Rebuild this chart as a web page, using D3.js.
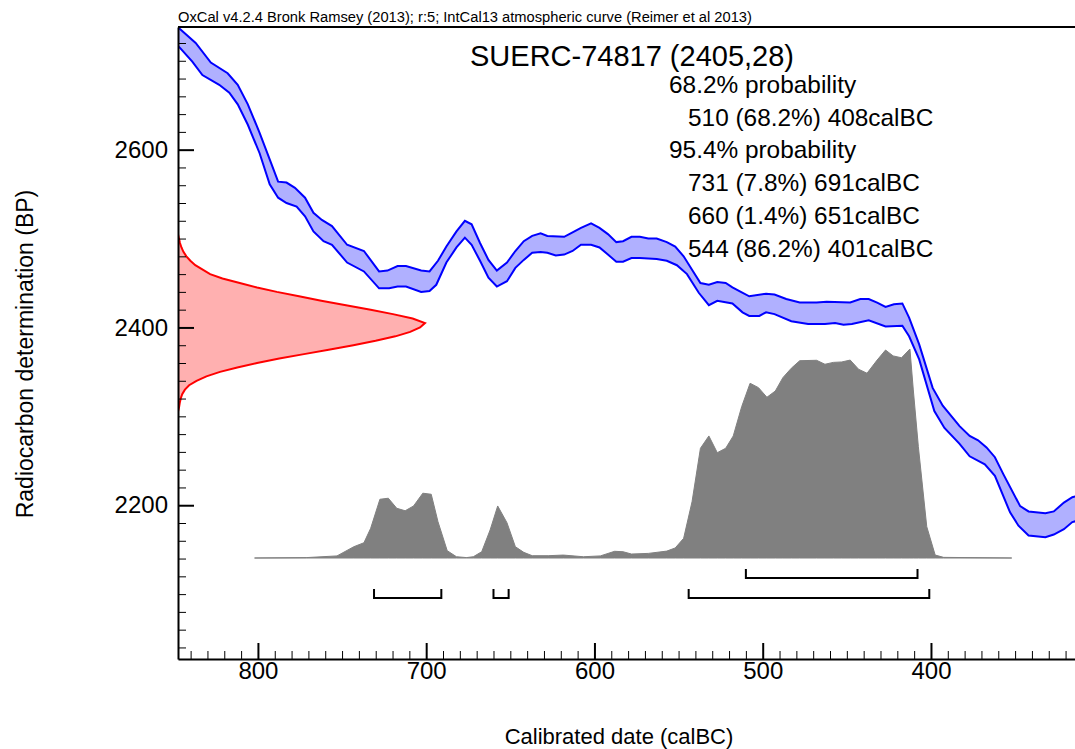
<!DOCTYPE html>
<html>
<head>
<meta charset="utf-8">
<script src="https://cdn.jsdelivr.net/npm/d3@7/dist/d3.min.js"></script>
<style>
body { margin: 0; background: #fff; }
svg { font-family: "Liberation Sans", Arial, sans-serif; }
</style>
</head>
<body>
<div id="chart"></div>
<script>
// calibration curve band (IntCal13): [calBC, BP]
var curveUpper = [[847,2737],[837,2720],[828,2698],[818,2686],[812,2673],[806,2651],[799,2619],[793,2589],[788,2564],[783,2563],[778,2557],[772,2546],[767,2529],[762,2521],[756,2514],[747,2493],[737,2486],[728,2463],[723,2464],[717,2469],[712,2469],[703,2464],[698,2463],[693,2475],[688,2491],[682,2508],[677,2520],[673,2516],[668,2495],[663,2476],[658,2464],[652,2473],[647,2486],[642,2497],[637,2503],[632,2506],[628,2503],[618,2502],[613,2507],[608,2512],[602,2517],[597,2512],[592,2505],[587,2496],[583,2497],[578,2502],[573,2502],[568,2500],[563,2500],[557,2496],[552,2491],[547,2480],[542,2465],[537,2450],[532,2448],[527,2451],[522,2450],[518,2445],[513,2440],[508,2435],[498,2438],[493,2437],[486,2432],[478,2428],[468,2428],[462,2429],[448,2428],[442,2432],[437,2432],[432,2428],[427,2423],[422,2426],[417,2427],[413,2411],[407,2381],[399,2332],[393,2312],[383,2289],[377,2278],[372,2273],[367,2265],[362,2254],[357,2235],[347,2199],[342,2193],[332,2191],[327,2193],[321,2203],[316,2209],[314,2210]];
var curveLower = [[847,2716],[839,2699],[833,2684],[823,2673],[817,2664],[812,2651],[806,2628],[799,2596],[793,2561],[788,2546],[783,2540],[777,2536],[772,2525],[767,2508],[761,2497],[756,2493],[747,2473],[737,2463],[728,2444],[722,2444],[717,2446],[712,2446],[703,2440],[698,2441],[694,2448],[688,2473],[682,2490],[677,2501],[673,2493],[668,2475],[663,2456],[658,2446],[652,2452],[647,2467],[642,2476],[637,2484],[632,2485],[628,2484],[623,2481],[618,2482],[613,2486],[608,2493],[602,2493],[597,2490],[592,2482],[587,2474],[583,2474],[578,2478],[573,2478],[563,2477],[557,2475],[551,2470],[545,2460],[538,2439],[532,2425],[527,2430],[518,2427],[512,2417],[508,2413],[502,2413],[498,2417],[493,2415],[483,2407],[473,2404],[463,2404],[457,2405],[452,2403],[447,2404],[437,2408],[427,2401],[417,2402],[413,2390],[407,2364],[398,2306],[392,2287],[383,2269],[377,2255],[368,2246],[362,2233],[353,2192],[348,2177],[342,2166],[332,2164],[327,2167],[321,2173],[316,2181],[314,2182]];

// radiocarbon measurement SUERC-74817, relative likelihood by BP
var measuredBP   = [2505,2500,2495,2490,2485,2480,2475,2470,2465,2460,2455,2450,2445,2440,2435,2430,2425,2420,2415,2410,2405,2400,2395,2390,2385,2380,2375,2370,2365,2360,2355,2350,2345,2340,2335,2330,2325,2320,2315,2310,2305];
var measuredProb = [0,0.004,0.008,0.014,0.022,0.034,0.05,0.07,0.10,0.13,0.18,0.25,0.32,0.40,0.49,0.58,0.68,0.78,0.87,0.95,1.0,0.98,0.94,0.88,0.80,0.71,0.61,0.51,0.41,0.32,0.24,0.17,0.115,0.075,0.045,0.028,0.017,0.011,0.007,0.004,0];

// calibrated probability: [calBC, relative probability]
var calibrated = [[802,0],[771,0.002],[753,0.01],[743,0.054],[737,0.073],[733,0.142],[727.5,0.281],[722.5,0.286],[717.5,0.238],[712.5,0.226],[707.5,0.249],[702,0.31],[697,0.305],[693,0.174],[687.5,0.035],[682,0.006],[676,0.002],[672,0.006],[667,0.03],[662,0.134],[657.5,0.249],[652,0.169],[647,0.054],[642,0.027],[637,0.011],[627.5,0.011],[618.5,0.014],[606.5,0.006],[596.5,0.01],[588,0.032],[583,0.03],[578,0.019],[568,0.022],[557,0.033],[552,0.048],[547,0.094],[542,0.269],[537,0.525],[532,0.584],[527,0.504],[522,0.525],[517.5,0.584],[512.5,0.724],[507.5,0.836],[502.5,0.815],[497.5,0.769],[492.5,0.799],[488,0.863],[483,0.908],[478,0.944],[468,0.946],[463,0.927],[458,0.936],[453,0.938],[448,0.947],[443,0.903],[438,0.884],[432,0.947],[427,0.995],[422.5,0.967],[417.5,0.958],[412.5,1.0],[410.5,0.804],[407.5,0.533],[402.5,0.15],[397.5,0.014],[392.5,0.003],[352,0]];

// highest probability ranges
var ranges68 = [[510,408]];
var ranges95 = [[731,691],[660,651],[544,401]];

var xMajorTicks = [800,700,600,500,400];
var yMajorTicks = [2200,2400,2600];

var headerText = "OxCal v4.2.4 Bronk Ramsey (2013); r:5; IntCal13 atmospheric curve (Reimer et al 2013)";
var titleText = "SUERC-74817 (2405,28)";
var summaryLines = [
	{ text: "68.2% probability", indent: false },
	{ text: "510 (68.2%) 408calBC", indent: true },
	{ text: "95.4% probability", indent: false },
	{ text: "731 (7.8%) 691calBC", indent: true },
	{ text: "660 (1.4%) 651calBC", indent: true },
	{ text: "544 (86.2%) 401calBC", indent: true }
];

var W = 1075, H = 749;
// plot frame (named so they do not clash with window.top)
var plotL = 178, plotR = 1075, plotT = 27, plotB = 659;

var svg = d3.select("#chart").append("svg")
	.attr("width", W)
	.attr("height", H);

var x = d3.scaleLinear().domain([847.5, 314.4]).range([plotL, plotR]);
var y = d3.scaleLinear().domain([2027, 2738]).range([plotB, plotT]);
var py = d3.scaleLinear().domain([0, 1]).range([558, 349]); // calibrated prob height
var mx = d3.scaleLinear().domain([0, 1]).range([plotL, 425]); // measurement width

svg.append("clipPath").attr("id", "plotclip")
	.append("rect")
	.attr("x", plotL).attr("y", plotT)
	.attr("width", plotR - plotL).attr("height", plotB - plotT);

var plot = svg.append("g").attr("clip-path", "url(#plotclip)");

// calibration curve band
var line = d3.line().x(function (d) { return x(d[0]); }).y(function (d) { return y(d[1]); });
var band = curveUpper.concat(curveLower.slice().reverse());
plot.append("path")
	.attr("d", line(band) + "Z")
	.attr("fill", "#b0b0ff")
	.attr("stroke", "none");
[curveUpper, curveLower].forEach(function (c) {
	plot.append("path")
		.attr("d", line(c))
		.attr("fill", "none")
		.attr("stroke", "#0000ff")
		.attr("stroke-width", 2);
});

// measurement on the y axis (red)
var measured = measuredBP.map(function (b, i) { return [b, measuredProb[i]]; });
plot.append("path")
	.datum(measured)
	.attr("d", d3.area()
		.y(function (d) { return y(d[0]); })
		.x0(plotL)
		.x1(function (d) { return mx(d[1]); }))
	.attr("fill", "#ffb0b0");
plot.append("path")
	.datum(measured)
	.attr("d", d3.line()
		.y(function (d) { return y(d[0]); })
		.x(function (d) { return mx(d[1]); }))
	.attr("fill", "none")
	.attr("stroke", "#ff0000")
	.attr("stroke-width", 2);

// calibrated distribution (grey)
plot.append("path")
	.datum(calibrated)
	.attr("d", d3.area()
		.x(function (d) { return x(d[0]); })
		.y0(py(0))
		.y1(function (d) { return py(d[1]); }))
	.attr("fill", "#808080")
	.attr("stroke", "#808080")
	.attr("stroke-width", 1);

// range brackets
function brackets(data, yy) {
	data.forEach(function (r) {
		var x0 = x(r[0]), x1 = x(r[1]);
		svg.append("path")
			.attr("d", "M" + x0 + "," + (yy - 9) + "V" + yy + "H" + x1 + "V" + (yy - 9))
			.attr("fill", "none")
			.attr("stroke", "#000")
			.attr("stroke-width", 2);
	});
}
brackets(ranges68, 578);
brackets(ranges95, 598);

// axes
var xMinor = d3.range(840, 310, -10).filter(function (v) { return v % 100 !== 0; });
var yMinor = d3.range(2040, 2740, 20).filter(function (v) { return v % 200 !== 0; });

svg.append("g")
	.attr("transform", "translate(0," + plotB + ")")
	.call(d3.axisBottom(x).tickValues(xMinor).tickSizeInner(-8).tickSizeOuter(0).tickFormat(""))
	.call(function (g) { g.select(".domain").remove(); g.selectAll("line").attr("stroke-width", 1); });
svg.append("g")
	.attr("transform", "translate(" + plotL + ",0)")
	.call(d3.axisLeft(y).tickValues(yMinor).tickSizeInner(-8).tickSizeOuter(0).tickFormat(""))
	.call(function (g) { g.select(".domain").remove(); g.selectAll("line").attr("stroke-width", 1); });

var xAxis = svg.append("g")
	.attr("transform", "translate(0," + plotB + ")")
	.call(d3.axisBottom(x).tickValues(xMajorTicks).tickSizeInner(-16).tickSizeOuter(0).tickPadding(3).tickFormat(d3.format("d")));
var yAxis = svg.append("g")
	.attr("transform", "translate(" + plotL + ",0)")
	.call(d3.axisLeft(y).tickValues(yMajorTicks).tickSizeInner(-16).tickSizeOuter(0).tickPadding(10).tickFormat(d3.format("d")));
[xAxis, yAxis].forEach(function (g) {
	g.attr("font-family", null).attr("font-size", 24);
	g.selectAll("line").attr("stroke-width", 2);
	g.select(".domain").attr("stroke-width", 2);
	g.selectAll("text").attr("fill", "#000");
});

// top border
svg.append("line")
	.attr("x1", plotL).attr("x2", plotR)
	.attr("y1", plotT).attr("y2", plotT)
	.attr("stroke", "#000").attr("stroke-width", 2);

// texts
svg.append("text")
	.attr("x", plotL).attr("y", 22)
	.attr("font-size", 14.7)
	.text(headerText);

svg.append("text")
	.attr("x", 470).attr("y", 66)
	.attr("font-size", 29)
	.text(titleText);

svg.selectAll(".summary")
	.data(summaryLines)
	.enter().append("text")
	.attr("class", "summary")
	.attr("x", function (d) { return d.indent ? 688 : 669; })
	.attr("y", function (d, i) { return 93 + i * 32.7; })
	.attr("font-size", 24.4)
	.text(function (d) { return d.text; });

svg.append("text")
	.attr("x", 619).attr("y", 744)
	.attr("text-anchor", "middle")
	.attr("font-size", 22)
	.text("Calibrated date (calBC)");

svg.append("text")
	.attr("transform", "translate(33,354) rotate(-90)")
	.attr("text-anchor", "middle")
	.attr("font-size", 23)
	.text("Radiocarbon determination (BP)");
</script>
</body>
</html>
